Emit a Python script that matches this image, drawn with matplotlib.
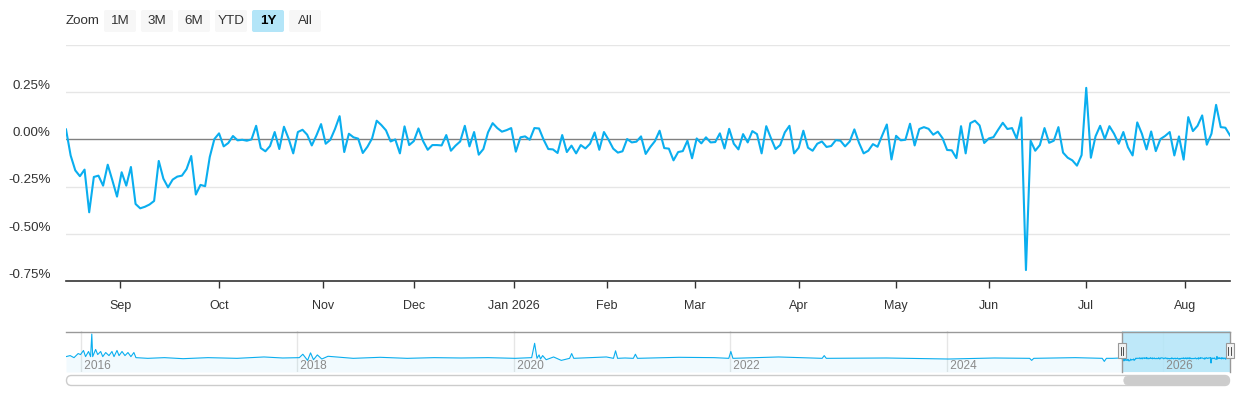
import numpy as np
import pandas as pd
import matplotlib
matplotlib.use("Agg")
import matplotlib.pyplot as plt
import matplotlib.dates as mdates
from matplotlib.patches import FancyBboxPatch, Rectangle
from matplotlib.lines import Line2D
from matplotlib.transforms import Affine2D

plt.rcParams['font.family'] = ['Liberation Sans', 'DejaVu Sans']

# daily change, % (one value per trading day, 14 Aug 2025 .. 14 Aug 2026)
change = [
    0.053, -0.085, -0.164, -0.195, -0.160, -0.386, -0.199, -0.192, -0.245, -0.134,
    -0.217, -0.303, -0.174, -0.245, -0.146, -0.342, -0.365, -0.357, -0.345, -0.326,
    -0.114, -0.208, -0.254, -0.213, -0.197, -0.192, -0.157, -0.088, -0.292, -0.241,
    -0.248, -0.093, 0.002, 0.032, -0.037, -0.019, 0.018, -0.005, -0.002, -0.007,
    0.000, 0.072,
    -0.046, -0.063, -0.035, 0.039, -0.051, 0.067, 0.004, -0.074, 0.039, 0.051,
    0.025, -0.032, 0.021, 0.081, -0.023, -0.002, 0.055, 0.123, -0.067, 0.030,
    0.011, 0.004, -0.072, -0.039, 0.005, 0.099, 0.076, 0.048, -0.011, 0.000,
    -0.074, 0.069, -0.030, -0.009, 0.058, -0.009, -0.055, -0.030, -0.030, -0.032,
    0.023, -0.060,
    -0.033, -0.011, 0.072, -0.037, 0.039, -0.081, -0.051, 0.037, 0.086, 0.060,
    0.041, 0.049, 0.060, -0.065, 0.011, 0.016, -0.002, 0.060, 0.058, -0.002,
    -0.051, -0.053, -0.072, 0.023, -0.067, -0.033, -0.074, -0.030, -0.048, -0.023,
    0.037, -0.055, 0.039, -0.002, -0.049, -0.070, -0.063, 0.002, -0.016, -0.012,
    0.016, -0.077,
    -0.040, -0.009, 0.046, -0.046, -0.049, -0.111, -0.067, -0.062, -0.007, -0.100,
    0.005, -0.021, 0.011, -0.016, -0.014, 0.032, -0.048, 0.056, -0.023, -0.053,
    0.028, -0.016, 0.044, 0.028, -0.074, 0.070, 0.007, -0.051, -0.030, 0.037,
    0.072, -0.074, -0.044, 0.046, -0.044, -0.060, -0.023, -0.011, -0.040, -0.035,
    -0.004, -0.007,
    -0.037, -0.011, 0.053, -0.018, -0.074, -0.060, -0.025, -0.039, 0.021, 0.079,
    -0.106, 0.019, -0.005, -0.002, 0.083, -0.032, 0.055, 0.065, 0.056, 0.025,
    0.041, 0.007, -0.056, -0.058, -0.099, 0.070, -0.074, 0.086, 0.099, 0.074,
    -0.019, 0.005, 0.012, 0.051, 0.088, 0.055, 0.060, 0.004, 0.116, -0.692,
    -0.007, -0.060,
    -0.030, 0.060, -0.018, -0.007, 0.065, -0.070, -0.097, -0.111, -0.139, -0.083,
    0.273, -0.097, 0.016, 0.072, 0.002, 0.070, 0.030, -0.023, 0.039, -0.042,
    -0.085, 0.090, 0.030, -0.053, 0.042, -0.062, 0.002, 0.018, 0.039, -0.085,
    0.016, -0.107, 0.118, 0.044, 0.072, 0.127, -0.028, 0.030, 0.183, 0.065,
    0.062, 0.021,
]

holidays = ["2025-09-01", "2025-11-27", "2025-12-25", "2026-01-01", "2026-01-19",
            "2026-02-16", "2026-04-03", "2026-05-25", "2026-06-19", "2026-07-03"]
dates = pd.bdate_range("2025-08-14", "2026-08-14", freq="C", holidays=holidays)

month_starts = pd.date_range("2025-09-01", "2026-08-01", freq="MS")
month_labels = ["Sep", "Oct", "Nov", "Dec", "Jan 2026", "Feb", "Mar", "Apr",
                "May", "Jun", "Jul", "Aug"]

y_ticks = [-0.75, -0.50, -0.25, 0.00, 0.25]
y_labels = ["-0.75%", "-0.50%", "-0.25%", "0.00%", "0.25%"]

# navigator: whole history, coarse readings before the shown year
nav_early_dates = [
    "2015-11-13", "2015-11-27", "2015-12-10", "2015-12-24", "2016-01-01", "2016-01-11",
    "2016-01-18", "2016-01-28", "2016-02-04", "2016-02-08", "2016-02-11", "2016-02-21",
    "2016-02-28", "2016-03-09", "2016-03-16", "2016-03-26", "2016-04-06", "2016-04-16",
    "2016-04-23", "2016-05-03", "2016-05-10", "2016-05-20", "2016-05-30", "2016-06-09",
    "2016-06-19", "2016-06-29", "2016-07-06", "2016-08-15", "2016-10-10", "2016-12-12",
    "2017-03-06", "2017-06-12", "2017-09-11", "2017-11-13", "2018-01-08", "2018-01-20",
    "2018-02-05", "2018-02-15", "2018-02-25", "2018-03-10", "2018-03-25", "2018-04-15",
    "2018-07-09", "2018-10-08", "2019-01-07", "2019-04-08", "2019-07-08", "2019-10-07",
    "2020-01-06", "2020-03-02", "2020-03-12", "2020-03-20", "2020-03-27", "2020-04-01",
    "2020-04-08", "2020-04-20", "2020-05-15", "2020-06-10", "2020-07-08", "2020-07-15",
    "2020-07-22", "2020-09-14", "2020-11-09", "2020-12-03", "2020-12-10", "2020-12-17",
    "2021-01-11", "2021-02-08", "2021-02-15", "2021-02-22", "2021-07-12", "2021-11-08",
    "2021-12-27", "2022-01-03", "2022-01-10", "2022-06-13", "2022-11-07", "2022-11-14",
    "2022-11-21", "2023-06-12", "2024-01-08", "2024-06-10", "2024-10-07", "2024-10-14",
    "2024-10-21", "2025-03-10", "2025-06-09", "2025-06-16", "2025-06-23", "2025-07-14",
]
nav_early_vals = [
    0.25, 0.4, 0.1, 0.7, 0.55, 1.15, 0.25, 1.0, 0.25, 3.55, 0.25, 1.3,
    0.55, 1.0, 0.25, 0.85, 0.4, 1.0, 0.25, 1.15, 0.4, 1.0, 0.4, 0.85,
    0.25, 0.85, 0.1, 0.0, 0.1, -0.05, 0.1, 0.0, 0.2, 0.05, 0.1, 0.6,
    -0.3, 0.8, -0.2, 0.5, -0.1, 0.3, 0.0, 0.15, 0.0, 0.1, 0.05, 0.1,
    0.0, 0.1, 2.2, 0.0, 0.5, -0.1, 0.4, -0.2, 0.2, -0.3, 0.0, 0.7,
    0.0, 0.1, 0.2, 0.0, 1.1, 0.0, 0.05, 0.0, 0.6, 0.0, 0.15, 0.1,
    0.0, 1.0, 0.0, 0.2, 0.0, 0.4, 0.0, 0.05, -0.1, 0.05, 0.0, -0.3,
    0.0, 0.1, 0.0, -0.45, 0.0, 0.0,
]
nav_years = [2016, 2018, 2020, 2022, 2024, 2026]

W, H, DPI = 1240, 400, 100
BLUE = "#0aaeef"
fig = plt.figure(figsize=(W / DPI, H / DPI), dpi=DPI)
T = Affine2D().scale(1 / DPI, -1 / DPI).translate(0, H / DPI) + fig.dpi_scale_trans


def box(x0, y0, x1, y1):
    return [x0 / W, 1 - y1 / H, (x1 - x0) / W, (y1 - y0) / H]


# ---- main chart (ordinal x axis: one slot per trading day)
ax = fig.add_axes(box(66, 45, 1230, 281))
idx = np.arange(len(dates))
ax.plot(idx, change, color=BLUE, lw=1.5, solid_joinstyle="round", zorder=3)
ax.set_xlim(0, len(dates) - 1)
ax.set_ylim(-0.75, 0.5)
for v in [-0.5, -0.25, 0.25, 0.5]:
    ax.axhline(v, color="#e6e6e6", lw=1, zorder=1)
ax.axhline(0, color="#808080", lw=1, zorder=2)
for s in ["top", "right", "left"]:
    ax.spines[s].set_visible(False)
ax.spines["bottom"].set_color("#333333")
ax.spines["bottom"].set_linewidth(1.2)
ax.set_yticks([])
for v, lab in zip(y_ticks, y_labels):
    ax.text(-0.013, v + 0.033, lab, transform=ax.get_yaxis_transform(),
            ha="right", va="center", fontsize=9.6, color="#333333")

tick_pos = np.interp(month_starts.values.astype("int64"),
                     dates.values.astype("int64"), idx)
ax.set_xticks(tick_pos, month_labels)
ax.tick_params(axis="x", length=5, width=1, color="#333333", labelsize=9.0,
               labelcolor="#333333", pad=9)

# ---- navigator
nav = fig.add_axes(box(66, 331, 1230, 372))
nav_dates = list(pd.to_datetime(nav_early_dates)) + list(dates)
nav_vals = nav_early_vals + change
nav.plot(nav_dates, nav_vals, color=BLUE, lw=0.8, zorder=3)
nav.fill_between(nav_dates, nav_vals, -2, color=BLUE, alpha=0.05, lw=0, zorder=2)
nav.set_ylim(-2, 4)
nav.set_xlim(pd.Timestamp("2015-11-13"), pd.Timestamp("2026-08-14"))
nav.set_xticks([])
nav.set_yticks([])
for s in nav.spines.values():
    s.set_visible(False)
for yr in nav_years:
    d = pd.Timestamp(f"{yr}-01-01")
    nav.axvline(d, color="#e6e6e6", lw=1, zorder=1)
    nav.text(d, 0.0, f" {yr}", transform=nav.get_xaxis_transform(), ha="left",
             va="bottom", fontsize=8.6, color="#8a8a8a", zorder=4)
nav.axvspan(dates[0], dates[-1], color="#b3e5f8", alpha=0.85, lw=0, zorder=2.5)

# outline of navigator and selected zone
zl = 66 + (mdates.date2num(dates[0]) - nav.get_xlim()[0]) / \
    (nav.get_xlim()[1] - nav.get_xlim()[0]) * 1164
fig.add_artist(Line2D([66, 1230], [331.5, 331.5], color="#999999", lw=1, transform=T))
fig.add_artist(Line2D([zl, zl], [331.5, 372], color="#999999", lw=1, transform=T))
fig.add_artist(Line2D([1229.5, 1229.5], [331.5, 372], color="#999999", lw=1, transform=T))
for hx in [zl, 1229.5]:
    fig.add_artist(Rectangle((hx - 4, 343), 8, 15, facecolor="#f2f2f2",
                             edgecolor="#999999", lw=0.8, transform=T, zorder=5))
    for dx in [-1.3, 1.3]:
        fig.add_artist(Line2D([hx + dx, hx + dx], [346.5, 354.5], color="#333333",
                              lw=0.6, transform=T, zorder=6))

# scrollbar
fig.add_artist(FancyBboxPatch((66.5, 375.5), 1163, 10, boxstyle="round,pad=0,rounding_size=5",
                              facecolor="white", edgecolor="#cccccc", lw=1, transform=T))
fig.add_artist(FancyBboxPatch((zl + 2, 376), 1229 - zl - 2, 9,
                              boxstyle="round,pad=0,rounding_size=4.5",
                              facecolor="#cccccc", edgecolor="#cccccc", lw=0.5, transform=T))

# ---- range selector buttons
fig.text(66, 21, "Zoom", transform=T, ha="left", va="center", fontsize=9.6, color="#333333")
buttons = [("1M", 104), ("3M", 141), ("6M", 178), ("YTD", 215), ("1Y", 252), ("All", 289)]
for lab, bx in buttons:
    sel = lab == "1Y"
    fig.add_artist(FancyBboxPatch((bx, 10), 32, 22, boxstyle="round,pad=0,rounding_size=2",
                                  facecolor="#b3e5f8" if sel else "#f7f7f7",
                                  edgecolor="none", transform=T))
    fig.text(bx + 16, 21, lab, transform=T, ha="center", va="center", fontsize=9.6,
             color="#000000" if sel else "#333333", fontweight="bold" if sel else "normal")

fig.savefig("out.png", dpi=DPI)
